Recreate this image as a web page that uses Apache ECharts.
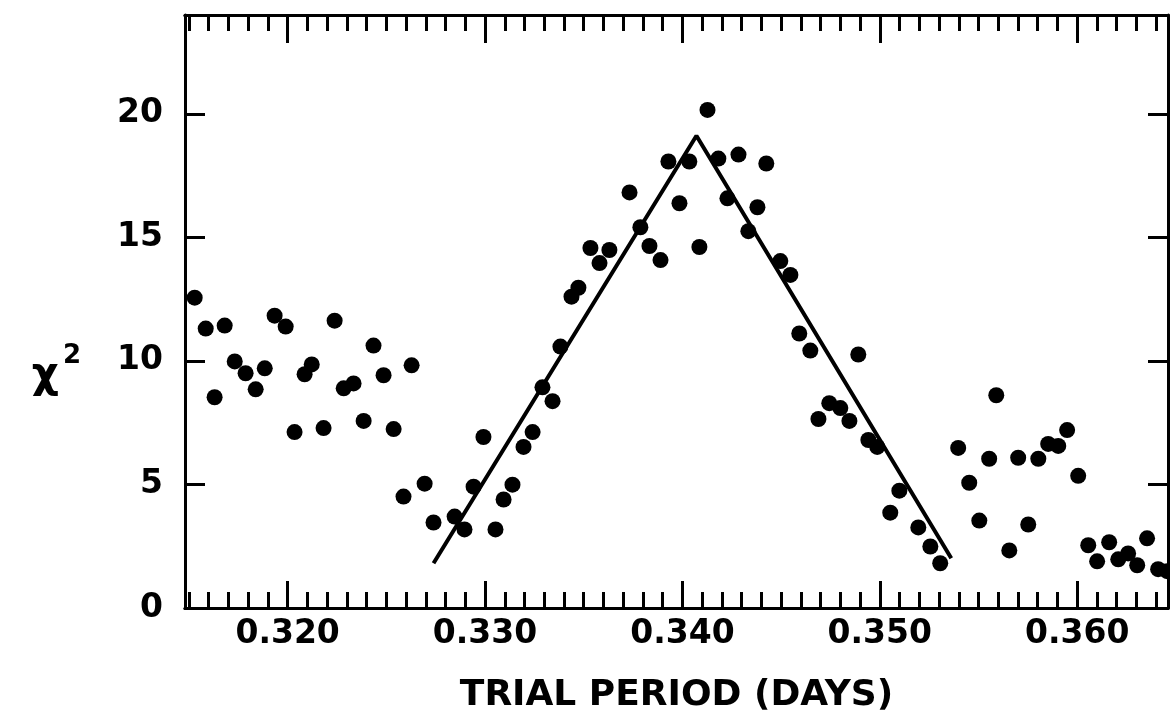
<!DOCTYPE html>
<html>
<head>
<meta charset="utf-8">
<script src="https://cdn.jsdelivr.net/npm/echarts@6/dist/echarts.min.js"></script>
<style>
html,body{margin:0;padding:0;background:#fff;}
#chart{width:1170px;height:719px;}
</style>
</head>
<body>
<div id="chart"></div>
<script>
// Trial period (days)
var periods = [
0.31529,0.31585,0.31630,0.31681,0.31732,0.31787,0.31838,0.31884,0.31934,0.31990,
0.32035,0.32086,0.32122,0.32182,0.32238,0.32284,0.32334,0.32385,0.32435,0.32486,
0.32537,0.32587,0.32628,0.32694,0.32739,0.32846,0.32896,0.32942,0.32992,0.33053,
0.33094,0.33139,0.33195,0.33241,0.33291,0.33342,0.33382,0.33438,0.33473,0.33534,
0.33580,0.33630,0.33732,0.33787,0.33833,0.33889,0.33929,0.33985,0.34035,0.34086,
0.34127,0.34182,0.34228,0.34284,0.34334,0.34380,0.34425,0.34496,0.34547,0.34592,
0.34648,0.34689,0.34744,0.34800,0.34846,0.34891,0.34942,0.34987,0.35053,0.35099,
0.35195,0.35256,0.35306,0.35397,0.35453,0.35504,0.35554,0.35590,0.35656,0.35701,
0.35752,0.35803,0.35853,0.35904,0.35949,0.36005,0.36056,0.36101,0.36162,0.36208,
0.36258,0.36304,0.36354,0.36410,0.36456
];
// chi-square values
var chi2 = [
12.56,11.31,8.53,11.43,9.98,9.50,8.85,9.70,11.83,11.39,
7.12,9.46,9.86,7.28,11.63,8.89,9.09,7.57,10.62,9.42,
7.24,4.51,9.82,5.03,3.46,3.70,3.18,4.91,6.92,3.18,
4.39,4.99,6.52,7.12,8.93,8.37,10.58,12.60,12.96,14.57,
13.96,14.49,16.82,15.41,14.65,14.08,18.07,16.38,18.07,14.61,
20.16,18.19,16.58,18.35,15.25,16.22,17.99,14.04,13.48,11.11,
10.42,7.65,8.29,8.09,7.57,10.26,6.80,6.52,3.86,4.75,
3.26,2.49,1.81,6.48,5.07,3.54,6.04,8.61,2.33,6.08,
3.38,6.04,6.64,6.56,7.20,5.35,2.54,1.89,2.66,1.97,
2.21,1.73,2.82,1.57,1.49
];
// fitted triangle line
var fitX = [0.32739, 0.34071, 0.35362];
var fitY = [1.81, 19.11, 2.01];

var xTickLabels = [0.320, 0.330, 0.340, 0.350, 0.360];
var yTickLabels = [0, 5, 10, 15, 20];
var yTicks = [5, 10, 15, 20];

var xMin = 0.3148, xMax = 0.3646;
var xMinor = [];
for (var i = 315; i <= 364; i++) xMinor.push(i / 1000);

var scatterData = periods.map(function (p, i) { return [p, chi2[i]]; });
var fitData = fitX.map(function (p, i) { return [p, fitY[i]]; });

var FONT = 'DejaVu Sans';
var lineStyle = { color: '#000', width: 3 };

function xAxisDef(pos, values, len, label) {
  return {
    type: 'value', position: pos, min: xMin, max: xMax,
    axisLine: { show: true, onZero: false, lineStyle: lineStyle },
    axisTick: { show: true, inside: true, length: len, customValues: values, lineStyle: { color: '#000', width: 3 } },
    axisLabel: label ? {
      show: true, customValues: xTickLabels, margin: 10, color: '#000',
      fontFamily: FONT, fontSize: 33, fontWeight: 'bold',
      formatter: function (v) { return v.toFixed(3); }
    } : { show: false },
    splitLine: { show: false }
  };
}

var chart = echarts.init(document.getElementById('chart'), null, { renderer: 'canvas' });
var xb = xAxisDef('bottom', xTickLabels, 27, true);
xb.name = 'TRIAL PERIOD (DAYS)';
xb.nameLocation = 'middle';
xb.nameGap = 70;
xb.nameTextStyle = { fontFamily: FONT, fontSize: 36, fontWeight: 'bold', color: '#000' };

chart.setOption({
  animation: false,
  backgroundColor: '#fff',
  grid: { left: 185, right: 2, top: 15, bottom: 107, containLabel: false },
  xAxis: [
    xb,
    xAxisDef('bottom', xMinor, 16, false),
    xAxisDef('top', xTickLabels, 28, false),
    xAxisDef('top', xMinor, 16, false)
  ],
  yAxis: [
    {
      type: 'value', position: 'left', min: 0, max: 24,
      axisLine: { show: true, onZero: false, lineStyle: lineStyle },
      axisTick: { show: true, inside: true, length: 20, customValues: yTicks, lineStyle: { color: '#000', width: 3 } },
      axisLabel: { show: true, customValues: yTickLabels, margin: 22, color: '#000', fontFamily: FONT, fontSize: 33, fontWeight: 'bold' },
      splitLine: { show: false },
      name: '{c|χ}{s|2}',
      nameLocation: 'middle',
      nameRotate: 0,
      nameGap: 104,
      nameTextStyle: {
        color: '#000',
        padding: [130, 0, 0, 0],
        rich: {
          c: { fontFamily: FONT, fontSize: 42, fontWeight: 'bold', color: '#000', padding: [0, 4, 0, 0] },
          s: { fontFamily: FONT, fontSize: 26, fontWeight: 'bold', color: '#000', verticalAlign: 'top', padding: [0, 0, 40, 0] }
        }
      }
    },
    {
      type: 'value', position: 'right', min: 0, max: 24,
      axisLine: { show: true, onZero: false, lineStyle: lineStyle },
      axisTick: { show: true, inside: true, length: 20, customValues: yTicks, lineStyle: { color: '#000', width: 3 } },
      axisLabel: { show: false },
      splitLine: { show: false }
    }
  ],
  series: [
    {
      type: 'line', data: fitData, xAxisIndex: 0, yAxisIndex: 0,
      showSymbol: false, symbol: 'none',
      lineStyle: { color: '#000', width: 4 }, z: 2
    },
    {
      type: 'scatter', data: scatterData, xAxisIndex: 0, yAxisIndex: 0,
      symbol: 'circle', symbolSize: 16,
      itemStyle: { color: '#000', opacity: 1 }, z: 3
    }
  ]
});
</script>
</body>
</html>
